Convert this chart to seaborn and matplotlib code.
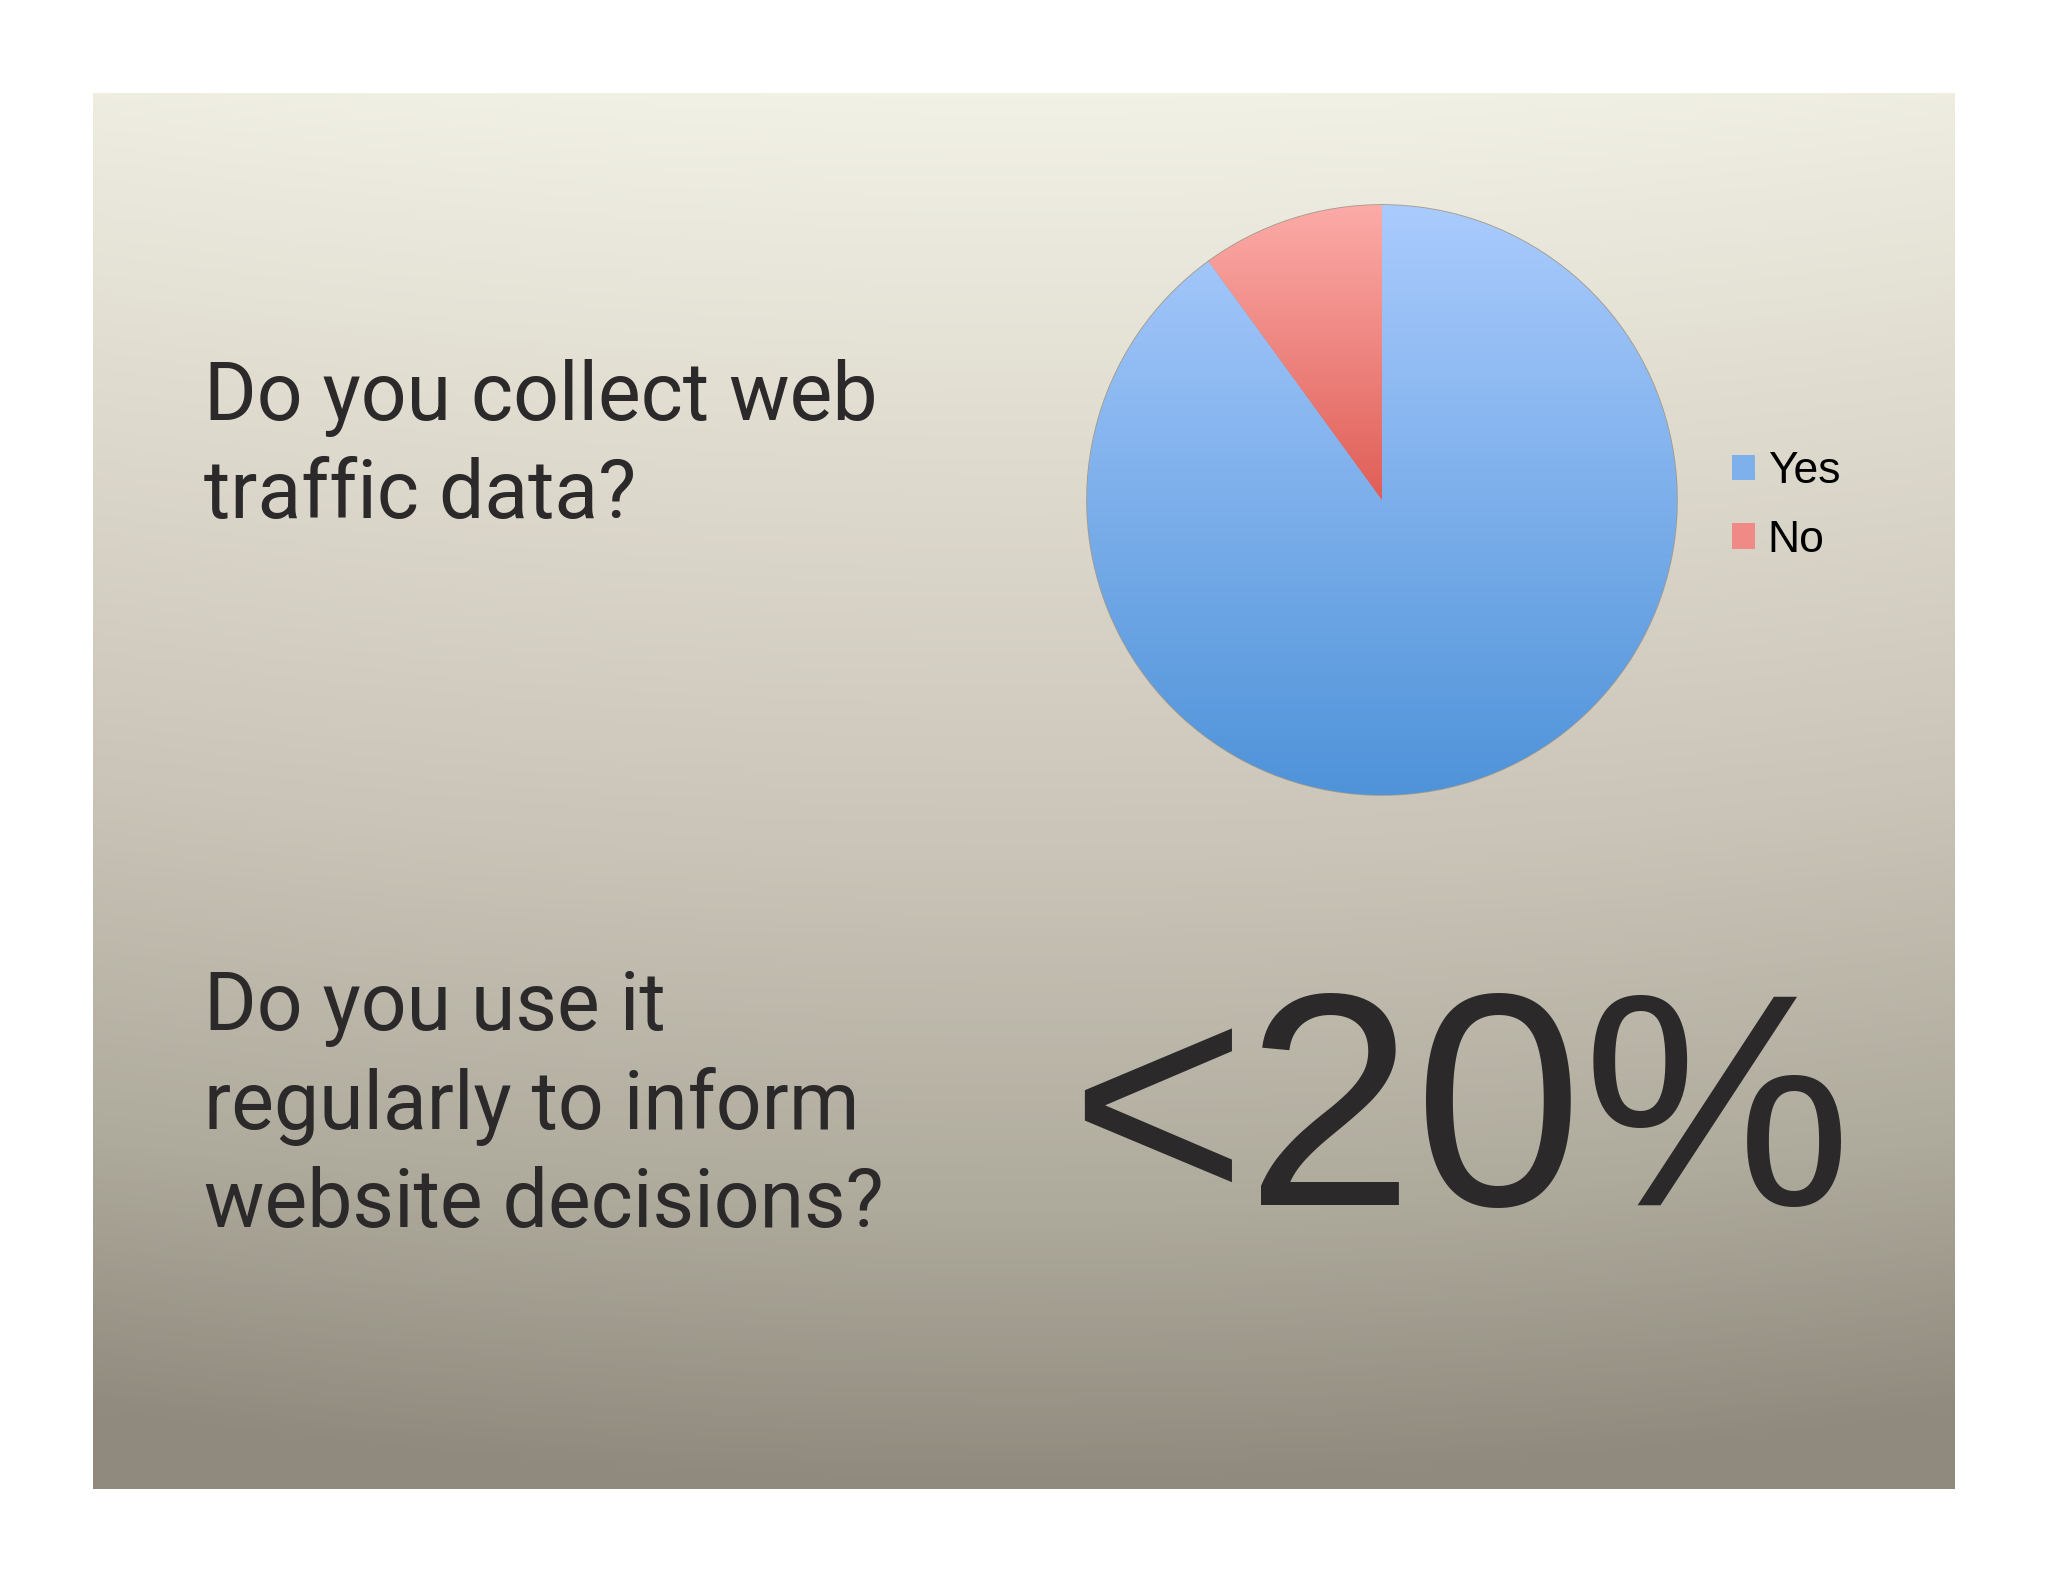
import numpy as np
import matplotlib
matplotlib.use("Agg")
import matplotlib.pyplot as plt
import matplotlib.colors as mcolors
import seaborn as sns

# survey answers
labels = ["Yes", "No"]
shares = [90, 10]

question_1 = ["Do you collect web", "traffic data?"]
question_2 = ["Do you use it", "regularly to inform", "website decisions?"]
answer_2 = "<20%"

W, H = 2048, 1582
TXT = "#2b2929"

sns.set_theme(style="white")
plt.rcParams["font.family"] = ["Roboto", "DejaVu Sans"]

fig = plt.figure(figsize=(W / 100, H / 100), dpi=100)
fig.patch.set_facecolor("white")


def fx(px):
    return px / W


def fy(py):
    return 1 - py / H


# slide background with a soft vertical gradient
sl, st, sr, sb = 93, 93, 1955, 1489
bg = fig.add_axes([fx(sl), fy(sb), fx(sr - sl), (sb - st) / H])
bg.set_axis_off()
stops = [(0.0, "#f2f1e6"), (0.3, "#dcd8cb"), (0.55, "#c9c4b7"),
         (0.8, "#aeaa9c"), (1.0, "#8f8a7d")]
cmap_bg = mcolors.LinearSegmentedColormap.from_list("bg", stops)
yy = np.linspace(0, 1, 400)[:, None]
xx = np.linspace(-1, 1, 400)[None, :]
grad = np.clip(yy + 0.05 * xx ** 2, 0, 1)
bg.imshow(cmap_bg(grad), aspect="auto", extent=[0, 1, 0, 1], origin="upper")
bg.set_xlim(0, 1)
bg.set_ylim(0, 1)

# pie chart
cx, cy, r = 1382, 500, 295
ax = fig.add_axes([fx(cx - r), fy(cy + r), fx(2 * r), 2 * r / H])
wedges, _ = ax.pie(shares, labels=None, colors=["#7eb0ec", "#f08a86"],
                   startangle=90, counterclock=False,
                   wedgeprops=dict(edgecolor="#a39a8a", linewidth=1.2))
ax.set_xlim(-1, 1)
ax.set_ylim(-1, 1)
ax.set_aspect("equal")
ax.set_axis_off()

grads = [("#aacbfd", "#4f93d9"), ("#fcaba8", "#e05e57")]
for w, (c_top, c_bot) in zip(wedges, grads):
    ext = w.get_path().get_extents()
    cm = mcolors.LinearSegmentedColormap.from_list("g", [c_top, c_bot])
    g = np.linspace(0, 1, 256)[:, None] * np.ones((1, 2))
    im = ax.imshow(cm(g), extent=[ext.x0, ext.x1, ext.y0, ext.y1],
                   origin="upper", aspect="auto", zorder=w.get_zorder() + 0.1)
    im.set_clip_path(w)
ax.set_xlim(-1, 1)
ax.set_ylim(-1, 1)

leg = fig.legend(wedges, labels, loc="center left",
                 bbox_to_anchor=(fx(1732), fy(506)), frameon=False,
                 borderpad=0, borderaxespad=0, handlelength=0.52,
                 handleheight=0.52, handletextpad=0.28, labelspacing=0.62,
                 prop=dict(family=["Liberation Sans", "DejaVu Sans"], size=32))
for t in leg.get_texts():
    t.set_color("black")
for h in leg.legend_handles:
    h.set_linewidth(0)

# questions
for i, line in enumerate(question_1):
    fig.text(fx(204), fy(420 + 98 * i), line, fontsize=58, color=TXT,
             fontweight="normal", va="baseline", ha="left")
for i, line in enumerate(question_2):
    fig.text(fx(204), fy(1030 + 98.5 * i), line, fontsize=58, color=TXT,
             fontweight="normal", va="baseline", ha="left")

fig.text(fx(1461), fy(1205), answer_2, fontsize=218, color=TXT,
         family=["Liberation Sans", "DejaVu Sans"],
         va="baseline", ha="center")

fig.savefig("out.png", dpi=100, facecolor="white")
